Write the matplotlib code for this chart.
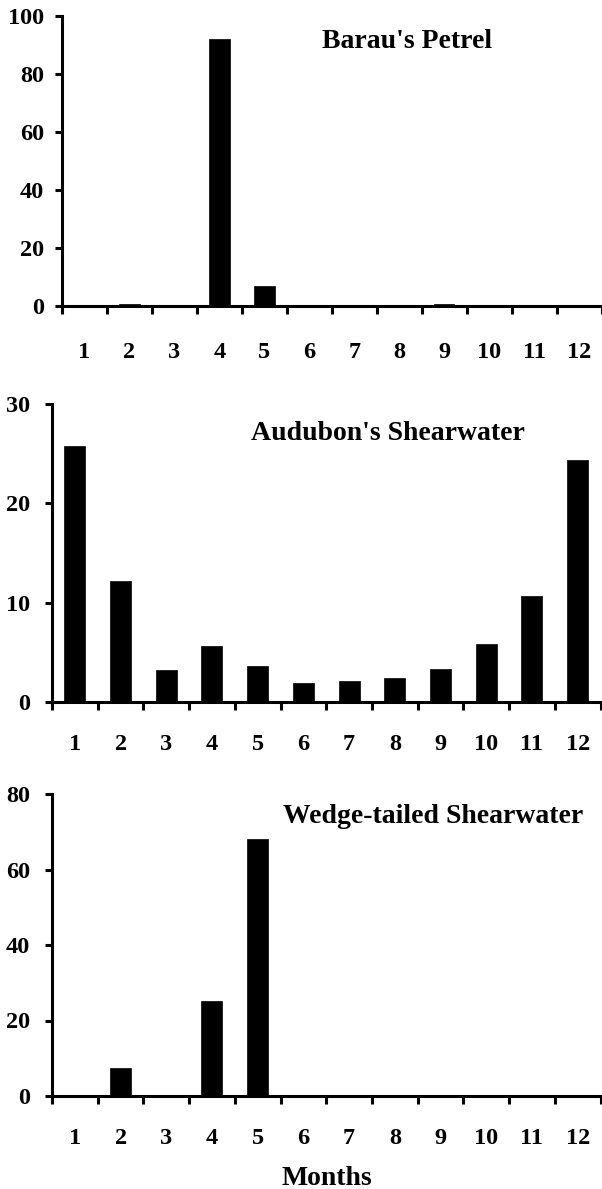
import matplotlib
matplotlib.use("Agg")
import matplotlib.pyplot as plt
import numpy as np

months = list(range(1, 13))
month_labels = [str(m) for m in months]

barau_petrel = [0, 0.8, 0, 92.2, 6.9, 0, 0, 0, 0.7, 0, 0, 0]
audubon_shearwater = [25.8, 12.2, 3.2, 5.6, 3.6, 1.9, 2.1, 2.4, 3.3, 5.8, 10.7, 24.4]
wedge_tailed_shearwater = [0, 7.4, 0, 25.2, 68.0, 0, 0, 0, 0, 0, 0, 0]

titles = ["Barau's Petrel", "Audubon's Shearwater", "Wedge-tailed Shearwater"]
series = [barau_petrel, audubon_shearwater, wedge_tailed_shearwater]
ymaxes = [100, 30, 80]
ysteps = [20, 10, 20]

W, H = 602, 1189
fig = plt.figure(figsize=(W / 100, H / 100), dpi=100)
FONT = "Liberation Serif"

# pixel boxes: left, right, top, bottom
boxes = [(62, 601.5, 16, 306), (52, 600.5, 404, 702), (52, 600.5, 794, 1096)]
title_pos = [(407, 48), (388, 440), (433, 823)]

for i, (vals, title, ymax, ystep) in enumerate(zip(series, titles, ymaxes, ysteps)):
    l, r, t, b = boxes[i]
    ax = fig.add_axes([l / W, 1 - b / H, (r - l) / W, (b - t) / H])
    ax.bar(months, vals, width=0.46, color="black", edgecolor="black", linewidth=0.5)
    ax.set_xlim(0.5, 12.5)
    ax.set_ylim(0, ymax)
    for s in ["top", "right"]:
        ax.spines[s].set_visible(False)
    for s in ["left", "bottom"]:
        ax.spines[s].set_linewidth(2.2)
    ax.set_yticks(np.arange(0, ymax + 1, ystep))
    ax.set_yticklabels([str(v) for v in np.arange(0, ymax + 1, ystep)],
                       fontfamily=FONT, fontweight="bold", fontsize=17.5)
    ax.tick_params(axis="y", direction="out", length=5, width=2.2,
                   pad=8 if i == 0 else 11)
    ax.set_xticks(np.arange(0.5, 13, 1))
    ax.set_xticklabels([])
    ax.tick_params(axis="x", which="major", direction="out", length=6, width=2.2)
    ax.set_xticks(months, minor=True)
    ax.set_xticklabels(month_labels, minor=True, fontfamily=FONT,
                       fontweight="bold", fontsize=17.5)
    ax.tick_params(axis="x", which="minor", length=0, pad=26 if i == 0 else 23)
    for sp in ax.spines.values():
        sp.set_clip_on(False)
    tx, ty = title_pos[i]
    fig.text(tx / W, 1 - ty / H, title, ha="center", va="baseline",
             fontfamily=FONT, fontweight="bold", fontsize=20)

fig.text(327 / W, 1 - 1185 / H, "Months", ha="center", va="baseline",
         fontfamily=FONT, fontweight="bold", fontsize=20)

fig.savefig("out.png", dpi=100, facecolor="white")
